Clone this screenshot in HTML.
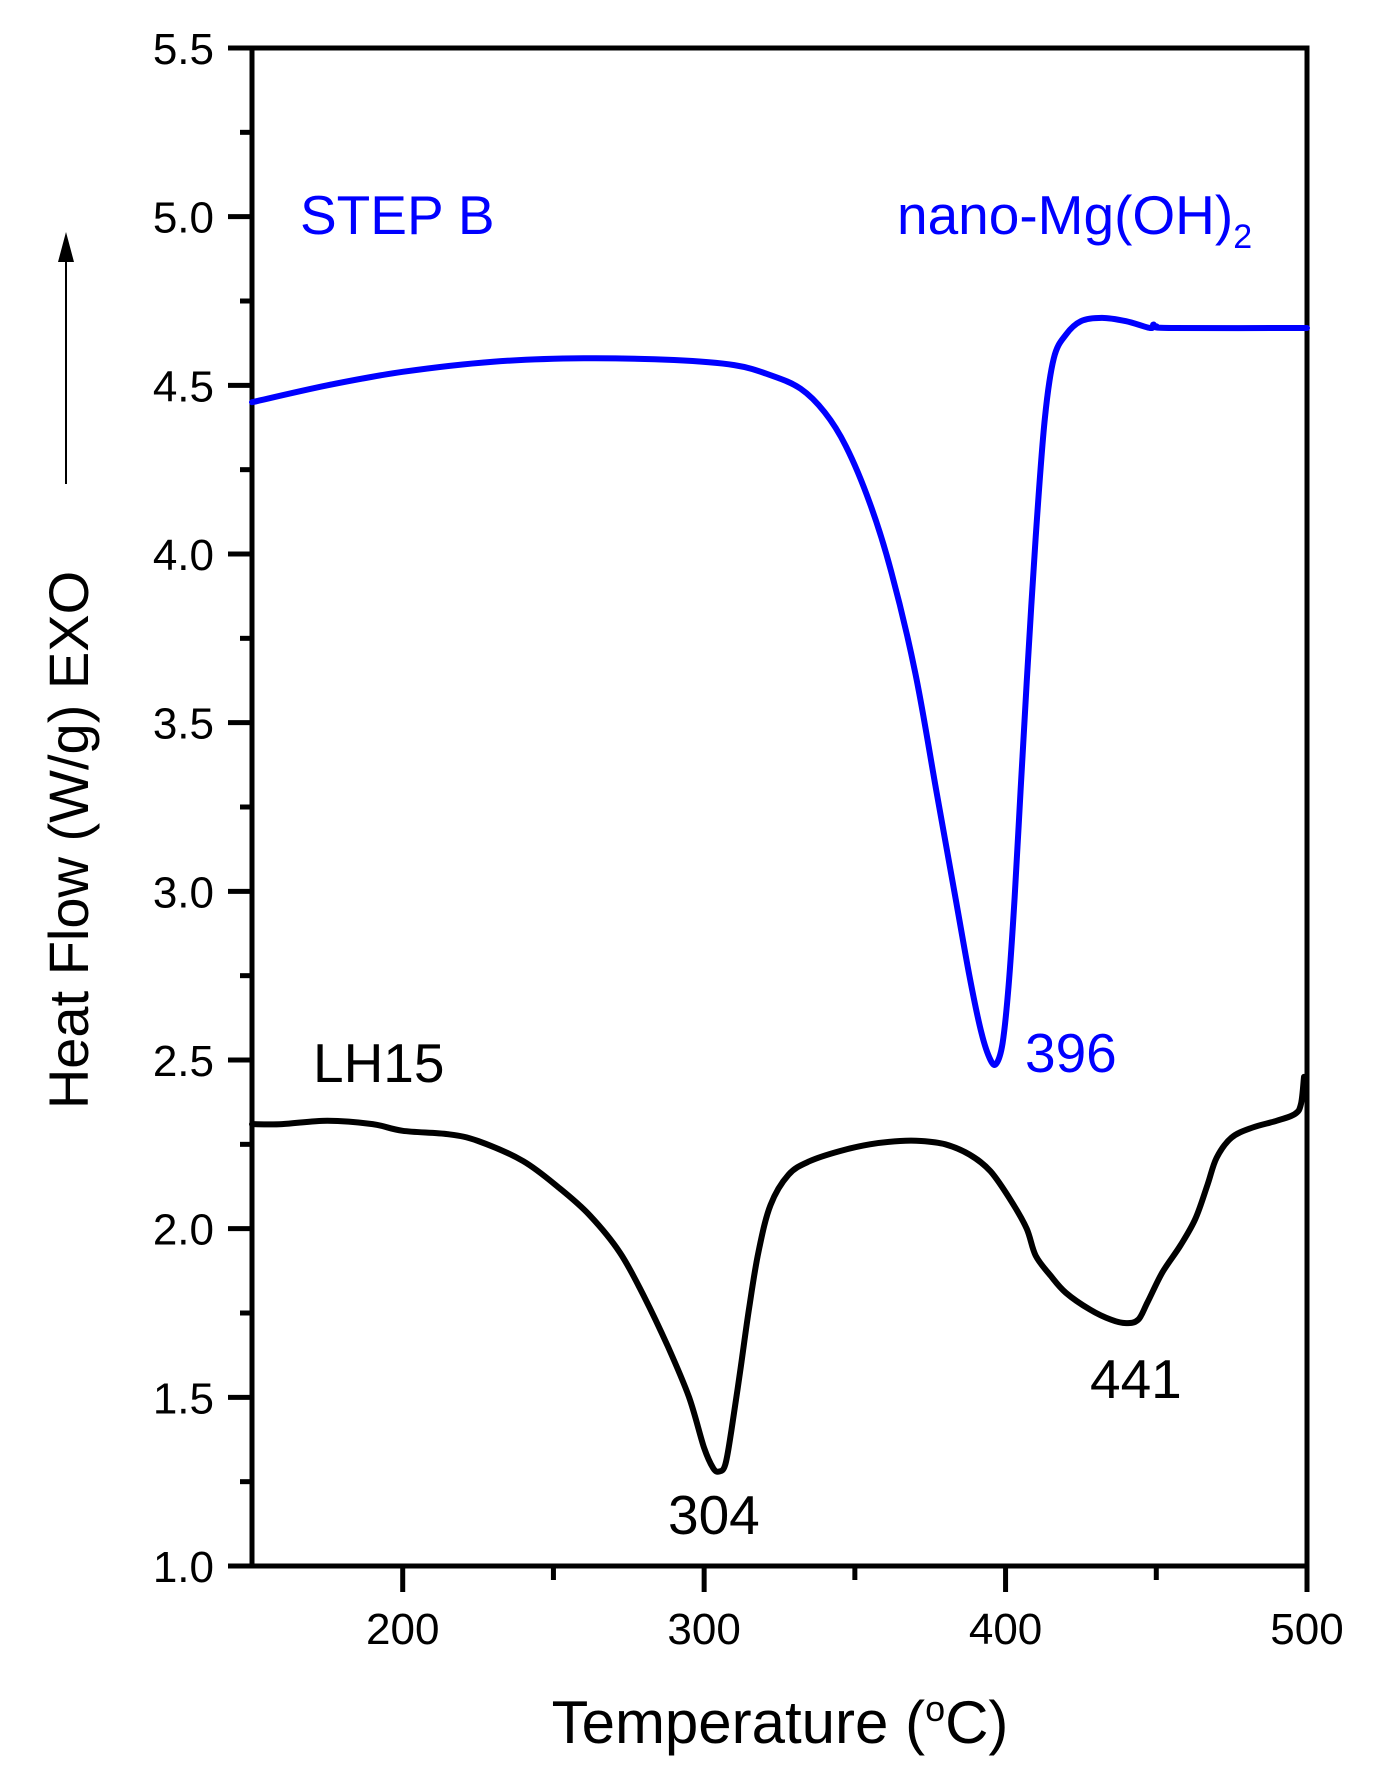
<!DOCTYPE html>
<html><head><meta charset="utf-8"><style>
body{margin:0;background:#fff}
svg text{font-family:"Liberation Sans",Arial,sans-serif}
</style></head><body>
<svg id="chart" width="1374" height="1784" viewBox="0 0 1374 1784" xmlns="http://www.w3.org/2000/svg">
<g id="axes"></g>
<g id="series"></g>
<text x="300" y="234" font-size="55" fill="#0000ff">STEP B</text>
<text x="897" y="234" font-size="55" fill="#0000ff">nano-Mg(OH)<tspan font-size="34" dy="14">2</tspan></text>
<text x="1025" y="1072" font-size="55" fill="#0000ff">396</text>
<text x="313" y="1082" font-size="55" fill="#000">LH15</text>
<text x="668" y="1534" font-size="55" fill="#000">304</text>
<text x="1090" y="1398" font-size="55" fill="#000">441</text>
<text x="780" y="1743" font-size="60" text-anchor="middle" fill="#000">Temperature (<tspan font-size="36" dy="-22">o</tspan><tspan dy="22">C)</tspan></text>
<text transform="translate(88,840) rotate(-90)" font-size="56" text-anchor="middle" fill="#000">Heat Flow (W/g)  EXO</text>
<line x1="66" y1="484" x2="66" y2="258" stroke="#000" stroke-width="2"/>
<polygon points="58,262 74,262 66,232" fill="#000"/>
</svg>
<script>
const xMin=150,xMax=500,yMin=1.0,yMax=5.5;
const X0=252,X1=1307,Y0=1566,Y1=48;
const xTicks=[200,250,300,350,400,450,500];
const xTickLabels=["200","","300","","400","","500"];
const yTicks=[1.0,1.25,1.5,1.75,2.0,2.25,2.5,2.75,3.0,3.25,3.5,3.75,4.0,4.25,4.5,4.75,5.0,5.25,5.5];
const blueT=[150,175,200,230,260,290,310,322,332,340,347,355,362,370,377,383,388,392,395,397,399,401,403,405,407,410,413,416,420,425,432,440,448,449,450,455,500];
const blueV=[4.45,4.50,4.54,4.57,4.58,4.575,4.56,4.53,4.49,4.42,4.32,4.15,3.95,3.65,3.30,3.00,2.75,2.58,2.50,2.49,2.55,2.72,2.98,3.30,3.62,4.05,4.40,4.58,4.65,4.69,4.70,4.69,4.67,4.68,4.675,4.67,4.67];
const blackT=[150,160,175,190,200,215,225,240,252,262,272,280,288,295,300,303,305,307,309,312,315,318,322,328,335,345,355,365,372,380,388,395,402,407,410,415,420,428,435,440,444,447,452,458,463,467,470,475,482,490,496,498,499];
const blackV=[2.31,2.31,2.32,2.31,2.29,2.28,2.26,2.20,2.12,2.04,1.93,1.80,1.65,1.50,1.35,1.29,1.28,1.30,1.40,1.58,1.77,1.93,2.07,2.16,2.20,2.23,2.25,2.26,2.26,2.25,2.22,2.17,2.08,2.00,1.92,1.86,1.81,1.76,1.73,1.72,1.73,1.78,1.87,1.95,2.03,2.13,2.21,2.27,2.30,2.32,2.34,2.37,2.45];
const sx=v=>X0+(v-xMin)/(xMax-xMin)*(X1-X0);
const sy=v=>Y0-(v-yMin)/(yMax-yMin)*(Y0-Y1);
const NS="http://www.w3.org/2000/svg";
const ax=document.getElementById('axes'), se=document.getElementById('series');
function mk(tag,attrs,parent){const e=document.createElementNS(NS,tag);for(const k in attrs)e.setAttribute(k,attrs[k]);parent.appendChild(e);return e;}
const frame=mk('rect',{x:X0,y:Y1,width:X1-X0,height:Y0-Y1,fill:'none',stroke:'#000','stroke-width':5},ax);


xTicks.forEach((t,i)=>{
  const major=xTickLabels[i]!=='';
  const l=mk('line',{x1:sx(t),x2:sx(t),y1:Y0,y2:Y0+(major?26:14),stroke:'#000','stroke-width':5},ax);
  
  
  if(major){const tx=mk('text',{x:sx(t),y:Y0+78,'font-size':44,'text-anchor':'middle',fill:'#000'},ax);tx.textContent=xTickLabels[i];
  
  }
});
yTicks.forEach((t,i)=>{
  const major=i%2===0;
  const l=mk('line',{x1:X0-(major?24:12),x2:X0,y1:sy(t),y2:sy(t),stroke:'#000','stroke-width':5},ax);
  
  
  if(major){const tx=mk('text',{x:X0-38,y:sy(t)+16,'font-size':44,'text-anchor':'end',fill:'#000'},ax);tx.textContent=t.toFixed(1);
  
  }
});
function path(T,V,color,name){
  const P=T.map((t,i)=>[sx(t),sy(V[i])]);
  let d='M'+P[0][0].toFixed(1)+','+P[0][1].toFixed(1);
  for(let i=0;i<P.length-1;i++){
    const p0=P[Math.max(i-1,0)],p1=P[i],p2=P[i+1],p3=P[Math.min(i+2,P.length-1)];
    const c1=[p1[0]+(p2[0]-p0[0])/6,p1[1]+(p2[1]-p0[1])/6];
    const c2=[p2[0]-(p3[0]-p1[0])/6,p2[1]-(p3[1]-p1[1])/6];
    d+=' C'+c1.map(v=>v.toFixed(1)).join(',')+' '+c2.map(v=>v.toFixed(1)).join(',')+' '+p2.map(v=>v.toFixed(1)).join(',');
  }
  const p=mk('path',{d:d,fill:'none',stroke:color,'stroke-width':6,'stroke-linejoin':'round','stroke-linecap':'round'},se);
  
  
}
path(blueT,blueV,'#0000ff','nano-mg-oh2-curve');
path(blackT,blackV,'#000000','lh15-curve');
</script>
</body></html>
